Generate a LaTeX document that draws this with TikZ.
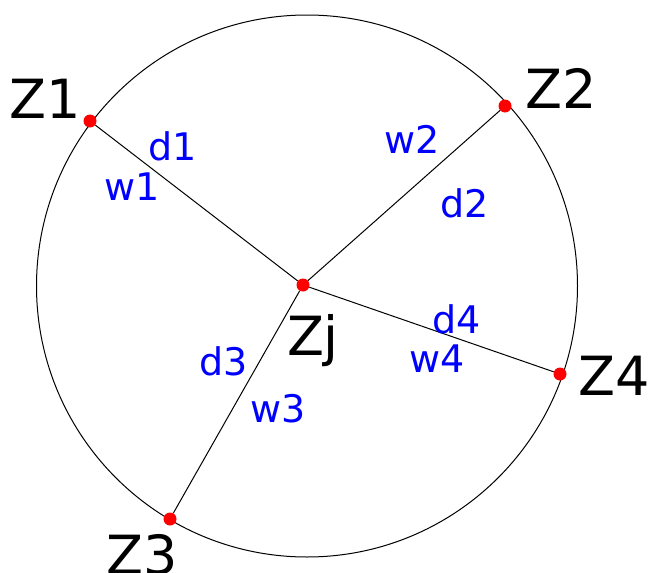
\documentclass[tikz,border=0pt]{standalone}
\usepackage{fontspec}
\setmainfont{DejaVu Sans}
\begin{document}
\begin{tikzpicture}[x=1pt,y=-1pt,
  dot/.style={circle,fill=red,inner sep=0pt,minimum size=13pt},
  big/.style={font=\fontsize{54}{54}\selectfont,text=black,inner sep=0pt,anchor=base},
  lab/.style={font=\fontsize{38}{38}\selectfont,text=blue,inner sep=0pt,anchor=base},
  edge/.style={line width=1pt,black}]
\useasboundingbox (0,0) rectangle (649,573);
\draw[edge] (307,286) ellipse [x radius=270.5,y radius=271];
\node[dot] (zj) at (303,285) {};
\node[dot] (z1) at (90,121) {};
\node[dot] (z2) at (505,106) {};
\node[dot] (z3) at (170,519) {};
\node[dot] (z4) at (560,374) {};
\draw[edge] (zj) -- (z1);
\draw[edge] (zj) -- (z2);
\draw[edge] (zj) -- (z3);
\draw[edge] (zj) -- (z4);
\node[big] (t1) at (45,118) {Z1};
\node[big] (t2) at (561,108) {Z2};
\node[big] (tj) at (313,355) {Zj};
\node[big] (t4) at (614,395) {Z4};
\node[big] (t3) at (142,574) {Z3};
\node[lab] (d1) at (173,160) {d1};
\node[lab] (w1) at (132,200) {w1};
\node[lab] (w2) at (412,153) {w2};
\node[lab] (d2) at (465,217) {d2};
\node[lab] (d3) at (224,375) {d3};
\node[lab] (w3) at (278,422) {w3};
\node[lab] (d4) at (457,333) {d4};
\node[lab] (w4) at (437,372) {w4};
\end{tikzpicture}
\end{document}
